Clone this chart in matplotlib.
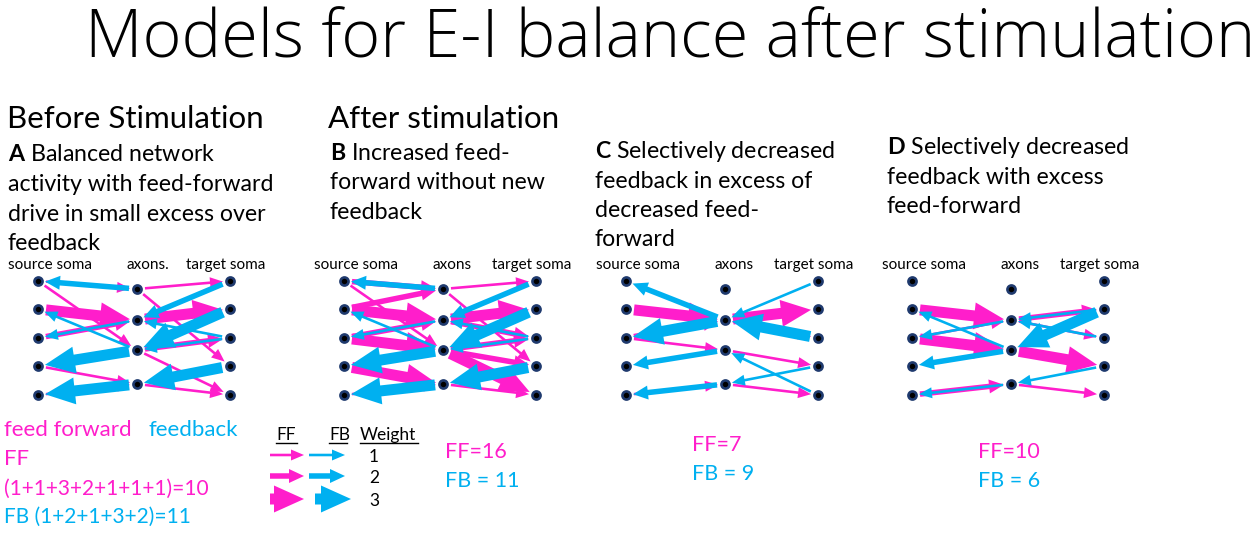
import matplotlib.pyplot as plt
from matplotlib.patches import FancyArrow

plt.rcParams['font.family'] = ['Lato', 'DejaVu Sans']
plt.rcParams['mathtext.fontset'] = 'custom'
plt.rcParams['mathtext.rm'] = 'Lato'
plt.rcParams['mathtext.bf'] = 'Lato:bold'

PINK = '#ff1ecb'
BLUE = '#00b0f0'
NAVY = '#1f3a6e'

# node layout (pixel space of the slide)
panel_x = [38, 344, 626, 912]
axon_dx = 99
target_dx = 192
soma_y = [281, 309, 338, 366, 395]
axon_y = [289, 320, 350, 384]

# connections: (from node, to node, weight)
ff_a = [('s0', 'a0', 1), ('s1', 'a1', 3), ('s0', 'a2', 1), ('s2', 'a1', 2),
        ('s3', 'a3', 1), ('s4', 'a3', 1),
        ('a0', 't0', 1), ('a1', 't1', 3), ('a2', 't2', 2), ('a0', 't3', 1),
        ('a3', 't4', 1), ('a2', 't4', 1)]
fb_a = [('a0', 's0', 2), ('a2', 's1', 1), ('a1', 's2', 1), ('a2', 's3', 3),
        ('a3', 's4', 3),
        ('t0', 'a1', 2), ('t1', 'a2', 3), ('t2', 'a1', 1), ('t2', 'a2', 1),
        ('t3', 'a3', 3)]

ff_b = [('s0', 'a0', 2), ('s1', 'a0', 2), ('s0', 'a2', 1), ('s1', 'a1', 3),
        ('s2', 'a1', 2), ('s2', 'a2', 3), ('s3', 'a3', 3), ('s4', 'a3', 1),
        ('a0', 't0', 1), ('a1', 't1', 3), ('a1', 't2', 2), ('a2', 't2', 2),
        ('a0', 't3', 1), ('a2', 't4', 3), ('a3', 't4', 1), ('a2', 't3', 2)]
fb_b = list(fb_a)

ff_c = [('s1', 'a1', 3), ('s2', 'a1', 2), ('s2', 'a2', 1), ('s4', 'a3', 1),
        ('a1', 't1', 3), ('a1', 't2', 1), ('a2', 't3', 1), ('a3', 't4', 1)]
fb_c = [('a1', 's0', 2), ('a1', 's2', 3), ('a2', 's3', 2), ('a3', 's4', 2),
        ('t0', 'a1', 1), ('t2', 'a1', 3), ('t4', 'a2', 1), ('t3', 'a3', 1)]

ff_d = [('s1', 'a1', 3), ('s2', 'a1', 1), ('s2', 'a2', 3), ('s4', 'a3', 2),
        ('a1', 't1', 2), ('a1', 't2', 1), ('a2', 't3', 3), ('a3', 't4', 1)]
fb_d = [('a2', 's1', 1), ('a1', 's2', 1), ('a2', 's3', 2), ('a3', 's4', 1),
        ('t1', 'a1', 1), ('t1', 'a2', 3), ('t2', 'a1', 1), ('t3', 'a3', 1)]

panels = [(ff_a, fb_a), (ff_b, fb_b), (ff_c, fb_c), (ff_d, fb_d)]
axon_names = ['axons.', 'axons', 'axons', 'axons']
weights = [1, 2, 3]
ff_totals = ['FF=16', 'FF=7', 'FF=10']
fb_totals = ['FB = 11', 'FB = 9', 'FB = 6']

SHAFT = {1: 2.6, 2: 5.5, 3: 11}
HEAD_W = {1: 11, 2: 14, 3: 27}
HEAD_L = {1: 13, 2: 15, 3: 30}


def node_xy(x0, name):
    i = int(name[1:])
    if name[0] == 's':
        return x0, soma_y[i]
    if name[0] == 'a':
        return x0 + axon_dx, axon_y[i]
    return x0 + target_dx, soma_y[i]


def arrow(ax, x1, y1, x2, y2, w, color):
    ax.add_patch(FancyArrow(x1, y1, x2 - x1, y2 - y1, width=SHAFT[w],
                            head_width=HEAD_W[w], head_length=HEAD_L[w],
                            length_includes_head=True, color=color, lw=0))


def link(ax, x0, a, b, w, color):
    xa, ya = node_xy(x0, a)
    xb, yb = node_xy(x0, b)
    d = ((xb - xa) ** 2 + (yb - ya) ** 2) ** 0.5
    ux, uy = (xb - xa) / d, (yb - ya) / d
    arrow(ax, xa + ux * 8, ya + uy * 8, xb - ux * 7, yb - uy * 7, w, color)


fig = plt.figure(figsize=(12.59, 5.33), dpi=100)
ax = fig.add_axes([0, 0, 1, 1])
ax.set_xlim(0, 1259)
ax.set_ylim(533, 0)
ax.axis('off')

ax.text(85, 58, 'Models for E-I balance after stimulation', fontsize=48,
        family=['Open Sans', 'Lato'], fontweight='light', va='baseline')
ax.text(7, 128, 'Before Stimulation', fontsize=22.5, va='baseline')
ax.text(328, 128, 'After stimulation', fontsize=22.5, va='baseline')

headings = [
    (8, [161, 191, 221, 250], [r'$\mathbf{A}$ Balanced network',
                               'activity with feed-forward',
                               'drive in small excess over', 'feedback']),
    (330, [160, 189, 219], [r'$\mathbf{B}$ Increased feed-',
                            'forward without new', 'feedback']),
    (595, [158, 188, 217, 246], [r'$\mathbf{C}$ Selectively decreased',
                                 'feedback in excess of',
                                 'decreased feed-', 'forward']),
    (887, [154, 184, 213], [r'$\mathbf{D}$ Selectively decreased',
                            'feedback with excess', 'feed-forward']),
]
for x, ys, lines in headings:
    for y, line in zip(ys, lines):
        ax.text(x, y, line, fontsize=16.7, va='baseline')

for k, (ff, fb) in enumerate(panels):
    x0 = panel_x[k]
    ax.text(x0 - 30, 269, 'source soma', fontsize=11, va='baseline')
    ax.text(x0 + axon_dx - 10, 269, axon_names[k], fontsize=11, va='baseline')
    ax.text(x0 + 148, 269, 'target soma', fontsize=11, va='baseline')
    for a, b, w in ff:
        link(ax, x0, a, b, w, PINK)
    for a, b, w in fb:
        link(ax, x0, a, b, w, BLUE)
    xs = [x0] * 5 + [x0 + axon_dx] * 4 + [x0 + target_dx] * 5
    ys = soma_y + axon_y + soma_y
    ax.scatter(xs, ys, s=34, c='black', edgecolors=NAVY, linewidths=1.9,
               zorder=5)

# bottom-left key
ax.text(4, 436, 'feed forward', fontsize=16, color=PINK, va='baseline')
ax.text(149, 436, 'feedback', fontsize=16, color=BLUE, va='baseline')
ax.text(4, 465, 'FF', fontsize=16, color=PINK, va='baseline')
ax.text(4, 495, '(1+1+3+2+1+1+1)=10', fontsize=15, color=PINK, va='baseline')
ax.text(4, 523, 'FB (1+2+1+3+2)=11', fontsize=15, color=BLUE, va='baseline')

# weight legend
ax.text(276, 440, 'FF', fontsize=12.5, va='baseline')
ax.text(329, 440, 'FB', fontsize=12.5, va='baseline')
ax.text(360, 440, 'Weight', fontsize=12.5, va='baseline')
for x1, x2 in [(276, 297), (329, 347), (360, 418)]:
    ax.plot([x1, x2], [443, 443], color='black', lw=1)
leg_y = [455, 476, 499]
for w, y in zip(weights, leg_y):
    arrow(ax, 270, y, 304, y, w, PINK)
    bx = 315 if w == 3 else 309
    arrow(ax, bx, y, bx + 36, y, w, BLUE)
    ax.text(369, y + 7, str(w), fontsize=12.5, va='baseline')

for x, y, t1, t2 in zip([445, 692, 978], [458, 451, 458], ff_totals, fb_totals):
    ax.text(x, y, t1, fontsize=15.5, color=PINK, va='baseline')
    ax.text(x, y + 29, t2, fontsize=15.5, color=BLUE, va='baseline')

fig.savefig('out.png', dpi=100)
